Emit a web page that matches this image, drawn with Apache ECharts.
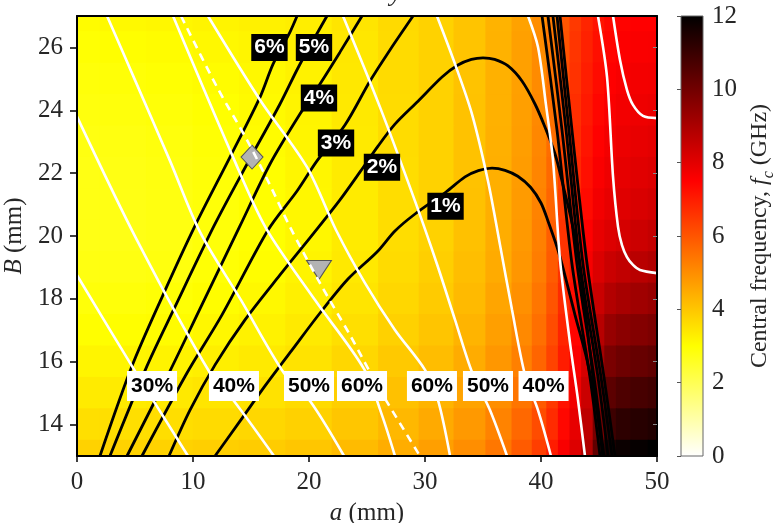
<!DOCTYPE html>
<html>
<head>
<meta charset="utf-8">
<script src="https://cdn.jsdelivr.net/npm/echarts@6/dist/echarts.min.js"></script>
<style>html,body{margin:0;padding:0;background:#fff}#c{width:777px;height:523px}</style>
</head>
<body>
<div id="c"></div>
<script>
// ---------------- data ----------------
const yTicks = [14, 16, 18, 20, 22, 24, 26];
const cbTickInterval = 2;

// background field fc (GHz): cell centres along a (mm) and B (mm)
const aCenters = [0, 4, 8, 12, 16, 20, 24, 28, 31, 34, 36.5, 38.5, 40, 41, 42, 43, 44, 45, 46, 47, 48.5, 50];
const bCenters = [27, 26, 25, 24, 23, 22, 21, 20, 19, 18, 17, 16, 15, 14, 13];
const fcRows = [
  [3.05,3.10,3.15,3.20,3.25,3.30,3.45,3.65,3.80,4.05,4.35,4.65,5.00,5.35,6.00,6.50,6.85,7.15,7.35,7.45,7.50,7.50],
  [2.97,3.01,3.06,3.12,3.18,3.26,3.42,3.64,3.80,4.05,4.36,4.67,5.03,5.40,6.06,6.56,6.92,7.23,7.43,7.53,7.59,7.61],
  [2.90,2.93,2.98,3.05,3.13,3.23,3.40,3.63,3.80,4.06,4.37,4.68,5.05,5.46,6.13,6.62,6.99,7.31,7.51,7.62,7.69,7.72],
  [2.85,2.87,2.92,3.00,3.08,3.20,3.38,3.62,3.80,4.07,4.38,4.70,5.08,5.51,6.20,6.68,7.06,7.39,7.59,7.71,7.79,7.84],
  [2.80,2.81,2.86,2.95,3.05,3.18,3.37,3.61,3.80,4.07,4.39,4.72,5.11,5.57,6.27,6.75,7.14,7.49,7.69,7.81,7.90,7.97],
  [2.77,2.78,2.83,2.92,3.02,3.16,3.36,3.60,3.80,4.08,4.41,4.74,5.15,5.64,6.35,6.82,7.23,7.59,7.79,7.92,8.03,8.11],
  [2.76,2.76,2.81,2.91,3.01,3.15,3.35,3.60,3.80,4.09,4.42,4.76,5.19,5.72,6.45,6.91,7.33,7.71,7.91,8.05,8.17,8.28],
  [2.75,2.75,2.80,2.90,3.00,3.15,3.35,3.60,3.80,4.10,4.45,4.80,5.25,5.85,6.60,7.05,7.50,7.90,8.10,8.25,8.40,8.55],
  [2.80,2.80,2.84,2.94,3.04,3.19,3.39,3.64,3.84,4.14,4.49,4.85,5.30,5.90,6.64,7.15,7.64,8.13,8.43,8.59,8.74,8.88],
  [2.89,2.89,2.94,3.03,3.12,3.26,3.46,3.71,3.92,4.22,4.58,4.95,5.41,6.01,6.74,7.28,7.81,8.43,8.85,9.04,9.18,9.32],
  [3.02,3.02,3.06,3.15,3.23,3.37,3.57,3.82,4.03,4.33,4.70,5.09,5.55,6.15,6.86,7.43,8.01,8.77,9.33,9.54,9.67,9.80],
  [3.18,3.18,3.21,3.29,3.37,3.50,3.70,3.95,4.17,4.47,4.84,5.25,5.72,6.32,7.01,7.59,8.22,9.13,9.84,10.06,10.19,10.31],
  [3.36,3.36,3.38,3.45,3.52,3.64,3.84,4.09,4.32,4.62,5.00,5.44,5.92,6.52,7.18,7.75,8.44,9.50,10.37,10.62,10.74,10.85],
  [3.57,3.57,3.58,3.64,3.70,3.81,4.01,4.26,4.50,4.80,5.19,5.66,6.15,6.75,7.38,7.92,8.66,9.89,10.93,11.20,11.31,11.42],
  [3.80,3.80,3.80,3.85,3.90,4.00,4.20,4.45,4.70,5.00,5.40,5.90,6.40,7.00,7.60,8.10,8.90,10.30,11.50,11.80,11.90,12.00]
];

// black contours [a, B]
const contour6 = [[1.98,13.0],[4.74,15.86],[7.41,18.12],[10.17,20.32],[13.19,22.51],[15.78,24.42],[16.90,25.47],[18.36,26.49],[18.97,27.0]];
const contour5 = [[2.84,13.0],[6.03,15.86],[8.36,17.68],[11.81,20.32],[14.66,22.29],[17.50,24.20],[19.14,25.41],[21.55,27.0]];
const contour4 = [[4.31,13.0],[7.93,15.64],[10.60,17.68],[14.05,20.32],[16.64,22.29],[19.22,23.88],[20.95,24.84],[22.67,25.85],[24.57,27.0]];
const contour3 = [[5.60,13.0],[9.48,15.64],[12.50,17.49],[16.47,20.19],[18.97,21.43],[20.69,22.39],[23.10,23.53],[25.26,24.93],[26.98,25.92],[28.97,27.0]];
const contour2 = [[7.93,13.0],[9.74,14.46],[11.90,15.90],[14.48,17.33],[17.50,18.76],[20.34,20.06],[22.67,21.15],[24.40,22.04],[25.95,22.86],[27.41,23.56],[29.40,24.29],[31.47,25.06],[32.84,25.44],[34.0,25.62],[35.0,25.67],[36.0,25.62],[37.16,25.41],[38.36,24.93],[39.48,24.20],[40.34,23.47],[41.21,22.61],[41.81,21.75],[42.50,20.70],[43.10,19.65],[43.71,17.96],[44.48,15.51],[45.34,13.0]];
const contour1 = [[11.90,13.0],[14.05,14.11],[16.21,15.23],[18.53,16.37],[20.95,17.55],[23.36,18.63],[25.86,19.49],[27.41,20.16],[29.14,20.70],[31.81,21.40],[33.45,21.88],[34.6,22.08],[35.78,22.16],[36.9,22.09],[38.0,21.90],[39.1,21.55],[40.0,21.05],[40.60,20.48],[41.38,19.65],[41.90,18.98],[42.93,17.49],[43.97,16.05],[44.83,14.46],[45.34,13.0]];
const steep1 = [[40.09,27.0],[41.38,23.37],[42.67,19.11],[44.22,15.51],[45.09,13.0]];
const steep2 = [[40.60,27.0],[41.81,23.37],[43.10,19.11],[44.57,15.51],[45.43,13.0]];
const steep3 = [[41.03,27.0],[42.16,23.37],[43.36,19.11],[44.91,15.51],[45.78,13.0]];
const steep4 = [[41.38,27.0],[42.41,23.37],[43.62,19.11],[45.17,15.51],[46.12,13.0]];
const steep5 = [[41.64,27.0],[42.67,23.37],[43.97,19.11],[45.43,15.51],[46.38,13.0]];

// white contours [a, B]
const white30L = [[0,18.75],[4.74,15.86],[9.57,13.0]];
const white40L = [[0,23.80],[5.17,19.87],[11.47,15.64],[13.53,14.75],[16.98,13.0]];
const white50L = [[2.59,27.0],[5.00,24.96],[8.02,22.39],[10.60,20.13],[14.14,17.96],[17.84,15.64],[20.09,14.75],[23.02,13.0]];
const white60L = [[8.28,27.0],[13.45,22.51],[16.29,20.25],[20.52,17.96],[24.74,15.77],[26.29,14.30],[27.41,13.0]];
const whiteDash = [[8.97,27.0],[12.07,24.74],[14.66,23.05],[16.64,21.62],[18.36,20.29],[20.95,18.50],[23.53,16.85],[26.12,15.10],[29.57,13.0]];
const white60R = [[11.29,27.0],[15.78,24.33],[19.83,22.19],[22.33,20.19],[24.83,18.50],[27.41,17.01],[30.00,15.74],[31.12,14.78],[32.16,13.0]];
const white50R = [[22.93,27.0],[26.12,24.10],[29.14,21.11],[31.03,19.11],[32.59,17.33],[34.05,15.67],[35.60,14.46],[37.07,13.0]];
const white40R = [[31.03,27.0],[32.59,25.47],[34.05,23.88],[35.43,21.75],[36.47,19.71],[37.50,17.65],[38.62,15.58],[39.74,14.46],[40.86,13.0]];
const white30R = [[38.88,27.0],[39.74,26.01],[40.43,24.17],[41.03,22.42],[41.64,19.24],[42.50,16.60],[43.19,14.78],[43.79,13.0]];
const whiteEdgeLow = [[44.91,27.0],[45.69,25.06],[46.21,21.88],[46.64,20.29],[46.98,19.71],[47.41,19.33],[47.93,19.08],[48.53,18.92],[50,18.82]];
const whiteEdgeHigh = [[46.21,27.0],[46.81,25.60],[47.41,24.65],[47.93,24.17],[48.79,23.82],[50,23.75]];

// contour labels
const blackLabelText = ['6%', '5%', '4%', '3%', '2%', '1%'];
const blackLabelPos = [[16.59,26.0],[20.43,26.0],[20.86,24.39],[22.33,22.96],[26.29,22.19],[31.77,20.95]];
const whiteLabelText = ['30%', '40%', '50%', '60%', '60%', '50%', '40%'];
const whiteLabelA = [6.47, 13.53, 20.0, 24.57, 30.60, 35.43, 40.22];
const whiteLabelB = 15.23;

// markers
const diamondPoint = [15.09, 22.51];
const trianglePoint = [20.86, 18.92];

// ---------------- chart ----------------
const SERIF = 'Liberation Serif';
const SANS = 'Liberation Sans';
const TXT = '#262626';
const FS = 25;
const hotColors = ['#ffffff','#ffff80','#ffff00','#ffaa00','#ff5500','#ff0000','#aa0000','#550000','#000000'];

const aLo = aCenters.map((a, i) => i === 0 ? a - (aCenters[1] - a) / 2 : (aCenters[i - 1] + a) / 2);
const aHi = aCenters.map((a, i) => i === aCenters.length - 1 ? a + (a - aCenters[i - 1]) / 2 : (a + aCenters[i + 1]) / 2);
const heatData = [];
bCenters.forEach((b, ri) => aCenters.forEach((a, ci) => heatData.push([a, b, fcRows[ri][ci], ci, ri])));

function renderCell(params, api) {
  const ci = api.value(3);
  const b = api.value(1);
  const p0 = api.coord([aLo[ci], b + 0.5]);
  const p1 = api.coord([aHi[ci], b - 0.5]);
  const r = echarts.graphic.clipRectByRect(
    {x: p0[0] - 0.5, y: p0[1] - 0.5, width: p1[0] - p0[0] + 1, height: p1[1] - p0[1] + 1},
    params.coordSys);
  if (!r) return;
  return {type: 'rect', shape: r, style: {fill: api.visual('color')}};
}

function renderColorbar(params, api) {
  const cs = params.coordSys;
  return {
    type: 'rect',
    shape: {x: cs.x, y: cs.y, width: cs.width, height: cs.height},
    style: {
      fill: new echarts.graphic.LinearGradient(0, 1, 0, 0, [
        {offset: 0, color: '#ffffff'}, {offset: 0.25, color: '#ffff00'},
        {offset: 0.625, color: '#ff0000'}, {offset: 1, color: '#000000'}]),
      stroke: '#666', lineWidth: 1
    }
  };
}

function lineSeries(data, color, width, type, z) {
  return {
    type: 'line', data: data, xAxisIndex: 0, yAxisIndex: 0,
    showSymbol: false, symbol: 'none', smooth: 0.3, silent: true, z: z,
    lineStyle: {color: color, width: width, type: type || 'solid'}
  };
}

const blackLines = [contour6, contour5, contour4, contour3, contour2, contour1, steep1, steep2, steep3, steep4, steep5]
  .map(d => lineSeries(d, '#000', 2.8, 'solid', 3));
const whiteLines = [white30L, white40L, white50L, white60L, white60R, white50R, white40R, white30R, whiteEdgeLow, whiteEdgeHigh]
  .map(d => lineSeries(d, '#fff', 2.6, 'solid', 5));
whiteLines.push(lineSeries(whiteDash, '#fff', 2.6, [8, 6], 5));

const nameStyle = {fontFamily: SERIF, fontSize: FS, color: TXT,
  rich: {i: {fontFamily: SERIF, fontSize: FS, fontStyle: 'italic', color: TXT},
         n: {fontFamily: SERIF, fontSize: FS, color: TXT}}};

const option = {
  animation: false,
  backgroundColor: '#fff',
  textStyle: {fontFamily: SERIF},
  grid: [
    {left: 77, top: 16, width: 580, height: 440, outerBoundsMode: 'none'},
    {left: 681, top: 16, width: 22, height: 440, outerBoundsMode: 'none'}
  ],
  visualMap: {
    type: 'continuous', show: false, min: 0, max: 12, dimension: 2, seriesIndex: 0,
    inRange: {color: hotColors}
  },
  graphic: [{
    type: 'text', left: 390, top: -19, silent: true,
    style: {text: 'y', fontFamily: SERIF, fontStyle: 'italic', fontSize: 26, fill: TXT}
  }],
  xAxis: [
    {gridIndex: 0, type: 'value', min: 0, max: 50, interval: 10, position: 'bottom', z: 10,
     axisLine: {show: true, onZero: false, lineStyle: {color: '#000', width: 2}},
     axisTick: {show: true, inside: false, length: 6, lineStyle: {color: '#000', width: 1.5}},
     axisLabel: {fontFamily: SERIF, fontSize: FS, color: TXT, margin: 14},
     splitLine: {show: false},
     name: '{i|a}{n| (mm)}', nameLocation: 'middle', nameGap: 45, nameTextStyle: nameStyle},
    {gridIndex: 0, type: 'value', min: 0, max: 50, position: 'top', z: 10,
     axisLine: {show: true, onZero: false, lineStyle: {color: '#000', width: 2}},
     axisTick: {show: false}, axisLabel: {show: false}, splitLine: {show: false}},
    {gridIndex: 1, type: 'value', min: 0, max: 1, show: false}
  ],
  yAxis: [
    {gridIndex: 0, type: 'value', min: 13, max: 27, position: 'left', z: 10,
     axisLine: {show: true, onZero: false, lineStyle: {color: '#000', width: 2}},
     axisTick: {show: true, inside: false, length: 7, customValues: yTicks, lineStyle: {color: '#000', width: 1.5}},
     axisLabel: {customValues: yTicks, fontFamily: SERIF, fontSize: FS, color: TXT, margin: 14},
     splitLine: {show: false},
     name: '{i|B}{n| (mm)}', nameLocation: 'middle', nameRotate: 90, nameGap: 38, nameTextStyle: nameStyle},
    {gridIndex: 0, type: 'value', min: 13, max: 27, position: 'right', z: 10,
     axisLine: {show: true, onZero: false, lineStyle: {color: '#000', width: 2}},
     axisTick: {show: true, inside: true, length: 4, customValues: yTicks, lineStyle: {color: '#888', width: 1}},
     axisLabel: {show: false}, splitLine: {show: false}},
    {gridIndex: 1, type: 'value', min: 0, max: 12, interval: cbTickInterval, position: 'right', z: 10,
     axisLine: {show: false},
     axisTick: {show: true, inside: true, length: 4, lineStyle: {color: '#555', width: 1}},
     axisLabel: {fontFamily: SERIF, fontSize: FS, color: TXT, margin: 9},
     splitLine: {show: false},
     name: '{n|Central frequency, }{i|f}{s|c}{n| (GHz)}', nameLocation: 'middle', nameRotate: 90, nameGap: 40,
     nameTextStyle: {fontFamily: SERIF, fontSize: 24, color: TXT,
       rich: {n: {fontFamily: SERIF, fontSize: 24, color: TXT, lineHeight: 34},
              i: {fontFamily: SERIF, fontSize: 24, fontStyle: 'italic', color: TXT, lineHeight: 34},
              s: {fontFamily: SERIF, fontSize: 16, fontStyle: 'italic', color: TXT, lineHeight: 16, verticalAlign: 'bottom'}}}}
  ],
  series: [
    {type: 'custom', name: 'fc', xAxisIndex: 0, yAxisIndex: 0, renderItem: renderCell,
     data: heatData, encode: {x: 0, y: 1}, silent: true, z: 1},
    {type: 'custom', name: 'colorbar', xAxisIndex: 2, yAxisIndex: 2, renderItem: renderColorbar,
     data: [[0.5, 6]], silent: true, z: 1},
    ...blackLines,
    {type: 'scatter', xAxisIndex: 0, yAxisIndex: 0, silent: true, z: 4,
     data: [{value: diamondPoint, symbol: 'diamond', symbolSize: [22, 24]},
            {value: trianglePoint, symbol: 'triangle', symbolSize: [25, 19], symbolRotate: 180}],
     itemStyle: {color: '#b3b3b3', borderColor: '#555', borderWidth: 1, opacity: 1}},
    ...whiteLines,
    {type: 'scatter', xAxisIndex: 0, yAxisIndex: 0, silent: true, z: 8, symbolSize: 1,
     itemStyle: {color: 'rgba(0,0,0,0)', opacity: 1},
     data: blackLabelText.map((t, i) => ({value: blackLabelPos[i], name: t})),
     label: {show: true, position: 'inside', formatter: '{b}', color: '#fff', fontFamily: SANS,
             fontWeight: 'bold', fontSize: 21, lineHeight: 21, backgroundColor: '#000', padding: [3, 3, 3, 3]}},
    {type: 'scatter', xAxisIndex: 0, yAxisIndex: 0, silent: true, z: 8, symbolSize: 1,
     itemStyle: {color: 'rgba(0,0,0,0)', opacity: 1},
     data: whiteLabelText.map((t, i) => ({value: [whiteLabelA[i], whiteLabelB], name: t})),
     label: {show: true, position: 'inside', formatter: '{b}', color: '#000', fontFamily: SANS,
             fontWeight: 'bold', fontSize: 21, lineHeight: 22, backgroundColor: '#fff', padding: [4, 4, 4, 4]}}
  ]
};

const chart = echarts.init(document.getElementById('c'), null, {renderer: 'canvas'});
chart.setOption(option);
</script>
</body>
</html>
